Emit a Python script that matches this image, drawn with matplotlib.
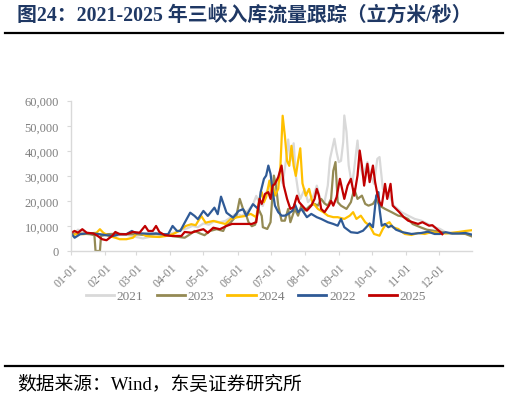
import matplotlib
matplotlib.use("Agg")
import matplotlib.pyplot as plt
from matplotlib.lines import Line2D

# ---------------- data (day of year, inflow m3/s) ----------------
s2021 = [(0, 7500), (3, 7000), (6, 8500), (10, 8000), (15, 7000), (20, 7000), (25, 6500), (30, 6000),
         (35, 6500), (40, 6000), (45, 6500), (50, 6500), (55, 6000), (60, 5500), (65, 5000), (70, 5500),
         (75, 6000), (80, 6500), (85, 6500), (90, 7000), (95, 7500), (100, 8500), (105, 9000), (110, 10000),
         (115, 9500), (120, 11000), (125, 10500), (130, 12000), (135, 11500), (140, 12000), (145, 13500),
         (150, 15000), (155, 14000), (160, 16000), (165, 18500), (168, 22000), (171, 19000), (174, 18000),
         (177, 23500), (180, 25000), (183, 21000), (186, 26000), (189, 30000), (192, 27000), (195, 36000),
         (197, 44500), (199, 36000), (202, 43000), (204, 30000), (206, 24000), (208, 20800), (212, 24800),
         (215, 19500), (220, 22100), (223, 26100), (226, 20800), (230, 19500), (233, 26100), (235, 36800),
         (237, 40800), (239, 44800), (241, 39500), (243, 35500), (245, 36000), (247, 43500), (248, 54100),
         (250, 47500), (252, 34100), (255, 26100), (257, 32800), (260, 44100), (262, 34100), (265, 30100),
         (267, 32800), (269, 35500), (272, 30100), (275, 26800), (278, 36800), (280, 37500), (283, 24800),
         (286, 23500), (289, 22100), (293, 18100), (300, 15500), (306, 14100), (312, 12800), (318, 12100),
         (324, 10800), (330, 9500), (335, 8800), (340, 7500), (346, 7000), (352, 7200), (358, 7000),
         (364, 6800)]

s2023 = [(0, 6700), (8, 7000), (17, 6700), (21, 6300), (22, 0), (26, 0), (27, 6000), (32, 6700),
         (41, 6900), (50, 6700), (59, 6700), (68, 6300), (77, 6900), (86, 6300), (96, 5700), (103, 5300),
         (108, 6700), (112, 8000), (117, 7000), (121, 6300), (126, 8000), (132, 8700), (138, 8000),
         (140, 9900), (145, 11500), (150, 14100), (153, 20800), (156, 16800), (158, 15500), (161, 11500),
         (164, 9900), (167, 10500), (170, 16800), (173, 14000), (174, 9500), (178, 8800), (181, 11500),
         (184, 30100), (186, 26000), (188, 18100), (191, 12100), (194, 12100), (197, 16800), (199, 11500),
         (201, 14100), (203, 16800), (206, 14100), (209, 18100), (212, 16100), (217, 18100), (221, 18800),
         (224, 18100), (227, 20800), (230, 19000), (233, 18100), (236, 20800), (238, 32000), (240, 35500),
         (242, 19500), (245, 18100), (250, 16800), (254, 19500), (257, 24800), (260, 20800), (264, 22100),
         (267, 18800), (270, 18100), (274, 18800), (277, 20800), (280, 18100), (285, 16800), (291, 15500),
         (297, 14100), (301, 13800), (306, 12800), (310, 10800), (317, 9500), (323, 8500), (329, 8100),
         (335, 7700), (340, 7200), (346, 7000), (352, 7000), (358, 6800), (364, 5800)]

s2024 = [(0, 6000), (5, 6900), (11, 6700), (17, 7000), (23, 7300), (26, 8700), (29, 7300), (34, 6000),
         (40, 5300), (44, 4700), (50, 4700), (56, 5300), (59, 6700), (64, 6900), (68, 6000), (74, 5700),
         (80, 5600), (86, 6000), (92, 6700), (98, 8000), (104, 10000), (109, 10700), (113, 10300),
         (118, 14000), (122, 11300), (129, 12000), (135, 11300), (140, 10800), (145, 12800), (151, 13500),
         (157, 13900), (163, 14800), (168, 13500), (171, 20800), (173, 23500), (175, 19500), (177, 21500),
         (180, 28100), (182, 23500), (183, 26100), (185, 22100), (188, 24800), (190, 34100), (192, 54000),
         (194, 46000), (196, 36000), (198, 34000), (200, 42000), (202, 34000), (204, 30000), (206, 36000),
         (208, 41000), (210, 27000), (213, 22100), (216, 24800), (219, 19500), (224, 16800), (229, 15500),
         (233, 14100), (238, 13500), (242, 13500), (248, 12800), (253, 14100), (256, 15500), (259, 12800),
         (263, 14100), (267, 11500), (271, 10100), (275, 6800), (280, 6100), (283, 8800), (286, 10800),
         (289, 11500), (292, 9500), (297, 8800), (303, 6800), (309, 6400), (315, 7200), (321, 6800),
         (327, 7500), (334, 7200), (340, 7000), (346, 7300), (352, 7600), (358, 8000), (364, 8300)]

s2022 = [(0, 7000), (3, 5300), (8, 6700), (14, 7000), (20, 7000), (26, 6700), (32, 6300), (38, 6000),
         (44, 6700), (50, 6700), (55, 8000), (59, 7000), (65, 7000), (71, 6900), (77, 7000), (83, 6700),
         (88, 6700), (92, 10000), (96, 8000), (99, 8000), (103, 11300), (108, 15300), (112, 14000),
         (115, 12700), (120, 16000), (124, 14000), (130, 17300), (133, 14700), (136, 21700), (141, 15300),
         (147, 13300), (152, 16000), (156, 16700), (159, 14000), (165, 18700), (170, 16700), (172, 23500),
         (175, 28800), (177, 30100), (179, 34100), (181, 30800), (183, 23500), (185, 18100), (188, 15500),
         (191, 14100), (194, 14100), (197, 14800), (201, 16100), (203, 18800), (206, 15500), (209, 16800),
         (214, 13500), (218, 14800), (223, 13500), (227, 12800), (233, 11500), (238, 10800), (242, 10100),
         (245, 12800), (248, 9500), (254, 7500), (260, 7200), (265, 8100), (268, 9500), (271, 11000),
         (274, 9500), (277, 22100), (279, 23500), (280, 16800), (282, 10100), (285, 10800), (288, 9500),
         (291, 10100), (295, 8500), (301, 7500), (309, 6800), (318, 7200), (324, 7700), (330, 6800),
         (335, 6800), (340, 7500), (346, 7000), (352, 7000), (358, 7200), (364, 6500)]

s2025 = [(0, 7300), (3, 8000), (6, 7300), (10, 8700), (14, 7300), (20, 7000), (24, 6000), (28, 4700),
         (32, 4300), (37, 6000), (40, 7600), (44, 6700), (50, 6700), (56, 7600), (62, 7300), (67, 10000),
         (70, 8000), (74, 8000), (77, 10000), (80, 7600), (85, 6300), (92, 6000), (100, 6000), (103, 7600),
         (109, 7300), (114, 8000), (120, 8700), (124, 7300), (129, 9300), (135, 8700), (141, 10000),
         (146, 10800), (152, 10800), (158, 10800), (164, 10800), (168, 11500), (170, 18100), (171, 20800),
         (173, 18800), (176, 22800), (179, 23500), (181, 20800), (183, 26100), (185, 26800), (188, 29500),
         (191, 34100), (193, 26100), (196, 20800), (199, 16800), (202, 17500), (205, 22100), (207, 19500),
         (211, 17500), (214, 16100), (218, 18100), (221, 20800), (223, 24800), (225, 22100), (227, 16800),
         (230, 15500), (234, 18100), (236, 20000), (238, 18100), (241, 21500), (244, 28800), (246, 24800),
         (248, 20800), (251, 26100), (254, 28800), (257, 22100), (260, 30100), (262, 40100), (264, 34100),
         (266, 26100), (269, 34800), (271, 27500), (274, 34100), (276, 27500), (278, 22800), (280, 19500),
         (282, 18100), (285, 26800), (287, 20800), (290, 26800), (292, 18100), (295, 16800), (298, 15500),
         (302, 13500), (306, 12100), (310, 11500), (315, 10800), (319, 11500), (322, 10800), (325, 10100),
         (328, 10300), (332, 8800), (335, 7700), (337, 6700)]

series_names = ["2021", "2023", "2024", "2022", "2025"]
series_data = [s2021, s2023, s2024, s2022, s2025]
series_colors = ["#D9D9D9", "#948A54", "#FFC000", "#2F5A96", "#C00000"]

month_starts = [0, 31, 59, 90, 120, 151, 181, 212, 243, 273, 304, 334]
month_labels = ["01-01", "02-01", "03-01", "04-01", "05-01", "06-01",
                "07-01", "08-01", "09-01", "10-01", "11-01", "12-01"]
y_ticks = [0, 10000, 20000, 30000, 40000, 50000, 60000]

title = "图24：2021-2025 年三峡入库流量跟踪（立方米/秒）"
source = "数据来源：Wind，东吴证券研究所"

# ---------------- figure ----------------
W, H = 509, 402
fig = plt.figure(figsize=(W / 100, H / 100), dpi=100)
fig.patch.set_facecolor("white")

ax = fig.add_axes([71.3 / W, 1 - 252 / H, (472 - 71.3) / W, (252 - 101.7) / H])

for name, data, col in zip(series_names, series_data, series_colors):
    xs = [d for d, v in data]
    ys = [v for d, v in data]
    ax.plot(xs, ys, color=col, lw=1.6, label=name, solid_joinstyle="round")

ax.set_xlim(0, 364)
ax.set_ylim(0, 60000)
ax.set_xticks(month_starts)
ax.set_xticklabels(month_labels, rotation=45, ha="right", rotation_mode="anchor")
ax.set_yticks(y_ticks)
ax.set_yticklabels([f"{v:,}" for v in y_ticks])

gray_txt = "#7F7F7F"
spine_col = "#D9D9D9"
for s in ["top", "right"]:
    ax.spines[s].set_visible(False)
for s in ["left", "bottom"]:
    ax.spines[s].set_color(spine_col)
    ax.spines[s].set_linewidth(1.0)
ax.tick_params(axis="x", colors=spine_col, length=3, width=0.8, pad=4,
               labelcolor=gray_txt, labelsize=8.5)
ax.tick_params(axis="y", colors=spine_col, length=3, width=0.8, pad=6,
               labelcolor=gray_txt, labelsize=9)
for lab in ax.get_xticklabels() + ax.get_yticklabels():
    lab.set_fontfamily("Liberation Serif")

handles = [Line2D([], [], color=c, lw=2) for c in series_colors]
leg = fig.legend(handles, series_names, loc="center", bbox_to_anchor=(256 / W, 1 - 297 / H),
                 ncol=5, frameon=False, handlelength=2.15, handletextpad=0.2, columnspacing=1.0,
                 prop={"family": "Liberation Serif", "size": 9.5})
for t in leg.get_texts():
    t.set_color(gray_txt)

# title and rules
fig.text(17 / W, 1 - 15.5 / H, title, ha="left", va="center", fontsize=14.3, fontweight="bold",
         color="#1F3864", family=["Liberation Serif", "Noto Sans CJK SC"])
fig.add_artist(Line2D([5 / W, 503 / W], [1 - 33.5 / H, 1 - 33.5 / H], color="black", lw=1.6))
fig.add_artist(Line2D([5 / W, 503 / W], [1 - 367 / H, 1 - 367 / H], color="black", lw=1.6))
fig.text(17 / W, 1 - 385 / H, source, ha="left", va="center", fontsize=13.5,
         color="black", family=["Liberation Serif", "Noto Sans CJK SC"])

fig.savefig("out.png", dpi=100, facecolor="white")
